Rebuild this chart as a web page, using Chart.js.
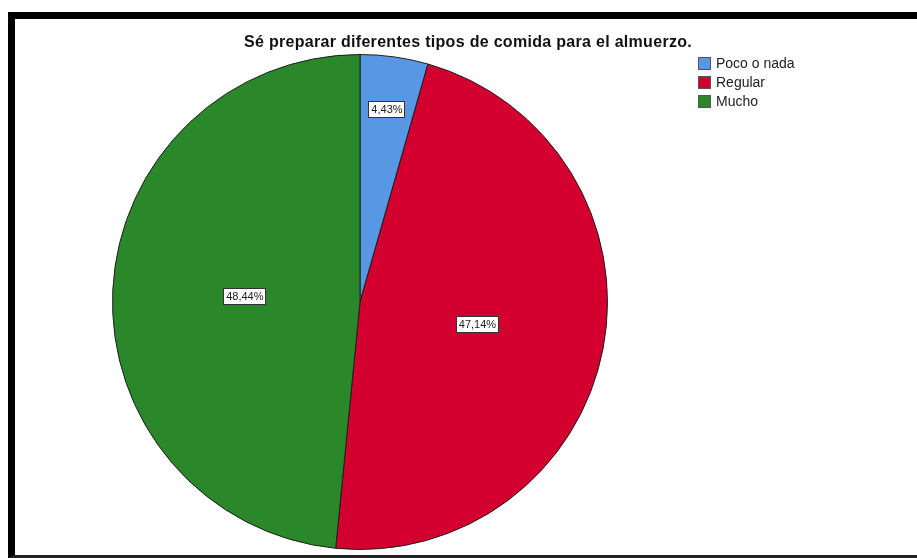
<!DOCTYPE html>
<html>
<head>
<meta charset="utf-8">
<script src="https://cdn.jsdelivr.net/npm/chart.js@4/dist/chart.umd.min.js"></script>
<style>
  html, body { margin: 0; padding: 0; background: #ffffff; }
  #wrap { position: relative; width: 917px; height: 558px; overflow: hidden; }
  #frame { position: absolute; left: 8px; top: 12px; width: 909px; height: 536px;
           border-top: 7px solid #000; border-left: 7px solid #000; border-bottom: 3px solid #222; box-sizing: content-box; }
  canvas { position: absolute; left: 0; top: 0; }
</style>
</head>
<body>
<div id="wrap">
  <div id="frame"></div>
  <canvas id="c" width="917" height="558"></canvas>
</div>
<script>
const titleText = "Sé preparar diferentes tipos de comida para el almuerzo.";
const categories = ["Poco o nada", "Regular", "Mucho"];
const percentValues = [4.43, 47.14, 48.44];
const percentLabels = ["4,43%", "47,14%", "48,44%"];
const sliceColors = ["#5897e4", "#d3002f", "#2a872a"];

const labelRadiusFrac = [0.785, 0.483, 0.466];

const overlayPlugin = {
  id: 'overlay',
  afterDraw(chart) {
    const ctx = chart.ctx;
    ctx.save();
    // title
    ctx.font = 'bold 16px "Liberation Sans", Arial, sans-serif';
    try { ctx.letterSpacing = '0.3px'; } catch (e) {}
    ctx.fillStyle = '#111';
    ctx.textAlign = 'center';
    ctx.textBaseline = 'middle';
    ctx.fillText(titleText, 468, 43);
    try { ctx.letterSpacing = '0px'; } catch (e) {}

    // legend
    ctx.font = '14px "Liberation Sans", Arial, sans-serif';
    ctx.textAlign = 'left';
    const lx = 698, ly0 = 57, step = 18.8;
    categories.forEach((cat, i) => {
      const y = Math.round(ly0 + i * step);
      ctx.fillStyle = sliceColors[i];
      ctx.fillRect(lx, y, 13, 13);
      ctx.strokeStyle = '#555';
      ctx.lineWidth = 1;
      ctx.strokeRect(lx + 0.5, y + 0.5, 12, 12);
      ctx.fillStyle = '#222';
      ctx.fillText(cat, 716, y + 7);
    });

    // value labels
    const meta = chart.getDatasetMeta(0);
    ctx.font = '11px "Liberation Sans", Arial, sans-serif';
    ctx.textAlign = 'center';
    meta.data.forEach((arc, i) => {
      const p = arc.getProps(['x', 'y', 'startAngle', 'endAngle', 'outerRadius'], true);
      const mid = (p.startAngle + p.endAngle) / 2;
      const r = p.outerRadius * labelRadiusFrac[i];
      const cx = p.x + Math.cos(mid) * r;
      const cy = p.y + Math.sin(mid) * r;
      const txt = percentLabels[i];
      const w = ctx.measureText(txt).width + 6;
      const h = 17;
      ctx.fillStyle = '#fff';
      ctx.fillRect(Math.round(cx - w / 2), Math.round(cy - h / 2), Math.round(w), h);
      ctx.strokeStyle = '#333';
      ctx.lineWidth = 1;
      ctx.strokeRect(Math.round(cx - w / 2) + 0.5, Math.round(cy - h / 2) + 0.5, Math.round(w) - 1, h - 1);
      ctx.fillStyle = '#222';
      ctx.fillText(txt, cx, cy + 0.5);
    });
    ctx.restore();
  }
};

new Chart(document.getElementById('c'), {
  type: 'pie',
  data: {
    labels: categories,
    datasets: [{
      data: percentValues,
      backgroundColor: sliceColors,
      borderColor: '#1e1e1e',
      borderWidth: 1
    }]
  },
  options: {
    responsive: false,
    animation: false,
    events: [],
    layout: { padding: { left: 112, right: 309, top: 54, bottom: 8 } },
    plugins: {
      legend: { display: false },
      title: { display: false },
      tooltip: { enabled: false }
    }
  },
  plugins: [overlayPlugin]
});
</script>
</body>
</html>
